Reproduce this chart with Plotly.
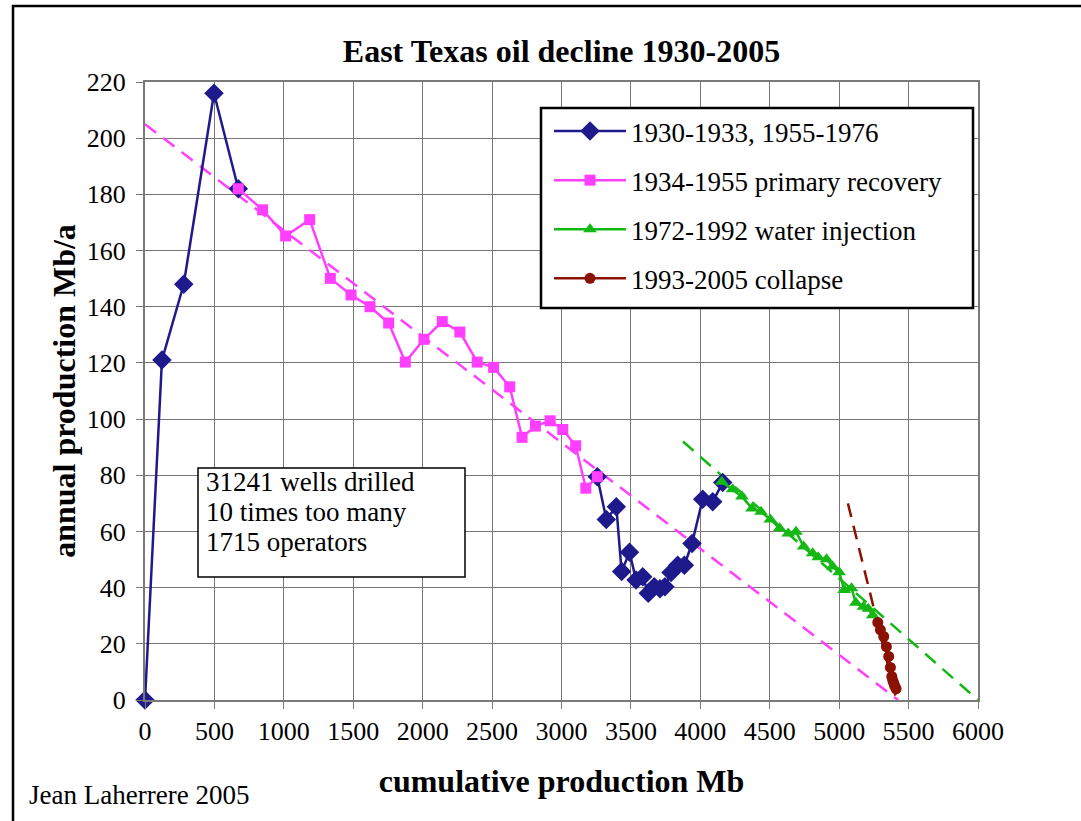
import plotly.graph_objects as go

# ---- data ----
# 1930-1933 and 1955-1976 (two segments, gap between)
blue_x = [0, 122, 279, 497, 672, None,
          3258, 3323, 3395, 3433, 3490, 3537, 3585, 3625, 3668, 3709, 3745,
          3789, 3837, 3885, 3940, 4017, 4089, 4161]
blue_y = [0, 121, 148, 216, 182, None,
          79.5, 64.3, 68.8, 45.7, 52.6, 42.7, 43.9, 38.0, 40.3, 39.6, 40.3,
          45.4, 48.0, 48.0, 55.7, 71.5, 70.6, 77.4]

# 1934-1955 primary recovery
pink_x = [672, 847, 1013, 1186, 1335, 1484, 1621, 1755, 1875, 2009, 2141,
          2268, 2393, 2511, 2627, 2716, 2812, 2918, 3009, 3102, 3175, 3258]
pink_y = [182, 174.5, 165.2, 171.0, 150.1, 144.2, 140.0, 134.2, 120.3, 128.4,
          134.7, 131.0, 120.3, 118.4, 111.5, 93.5, 97.5, 99.4, 96.3, 90.5,
          75.4, 79.5]

# 1972-1992 water injection
green_x = [4154, 4233, 4300, 4372, 4437, 4504, 4571, 4633, 4689, 4744, 4809,
           4849, 4909, 4953, 5000, 5036, 5089, 5120, 5175, 5210, 5242]
green_y = [77.7, 75.0, 72.4, 68.2, 67.0, 64.3, 61.1, 59.3, 59.9, 54.6, 52.2,
           50.8, 50.1, 47.5, 45.5, 39.2, 39.8, 34.6, 33.2, 32.5, 30.2]

# 1993-2005 collapse
red_x = [5278, 5297, 5321, 5340, 5357, 5369, 5379, 5386, 5393, 5400, 5410]
red_y = [27.6, 25.0, 22.6, 19.0, 15.5, 11.6, 8.4, 7.0, 6.0, 5.0, 4.0]

# linear trend lines (end points)
pink_trend_x = [0, 5425]
pink_trend_y = [205, 0]
green_trend_x = [3875, 6000]
green_trend_y = [92, 0]
red_trend_x = [5063, 5413]
red_trend_y = [70, 0]

series_names = ["1930-1933, 1955-1976", "1934-1955 primary recovery",
                "1972-1992 water injection", "1993-2005 collapse"]
note_lines = ["31241 wells drilled", "10 times too many", "1715 operators"]

x_ticks = list(range(0, 6001, 500))
y_ticks = list(range(0, 221, 20))

BLUE = "#1E1A8C"
PINK = "#FF3EFF"
GREEN = "#14B814"
RED = "#8B1100"
FONT = "Liberation Serif"

fig = go.Figure()

dash = "14px,9px"
fig.add_trace(go.Scatter(x=pink_trend_x, y=pink_trend_y, mode="lines",
                         line=dict(color=PINK, width=2.5, dash=dash),
                         showlegend=False, hoverinfo="skip"))
fig.add_trace(go.Scatter(x=green_trend_x, y=green_trend_y, mode="lines",
                         line=dict(color=GREEN, width=2.5, dash=dash),
                         showlegend=False, hoverinfo="skip"))
fig.add_trace(go.Scatter(x=red_trend_x, y=red_trend_y, mode="lines",
                         line=dict(color=RED, width=2.5, dash=dash),
                         showlegend=False, hoverinfo="skip"))

fig.add_trace(go.Scatter(x=blue_x, y=blue_y, mode="lines+markers",
                         name=series_names[0], legendgroup="a",
                         connectgaps=False, cliponaxis=False,
                         line=dict(color=BLUE, width=2.5),
                         marker=dict(symbol="diamond", size=15, color=BLUE)))
fig.add_trace(go.Scatter(x=pink_x, y=pink_y, mode="lines+markers",
                         name=series_names[1], legendgroup="b",
                         line=dict(color=PINK, width=2.5),
                         marker=dict(symbol="square", size=11, color=PINK)))
fig.add_trace(go.Scatter(x=green_x, y=green_y, mode="lines+markers",
                         name=series_names[2], legendgroup="c",
                         line=dict(color=GREEN, width=2.5),
                         marker=dict(symbol="triangle-up", size=12, color=GREEN)))
fig.add_trace(go.Scatter(x=red_x, y=red_y, mode="lines+markers",
                         name=series_names[3], legendgroup="d",
                         line=dict(color=RED, width=2.5),
                         marker=dict(symbol="circle", size=11, color=RED)))

W, H = 1081, 821
L, R, T, B = 145, 103, 82, 121
pw, ph = W - L - R, H - T - B


def px_x(p):
    return (p - L) / pw


def px_y(p):
    return (H - B - p) / ph


shapes = [
    # outer frame (top and left edges visible)
    dict(type="path", xref="paper", yref="paper",
         path=f"M {px_x(13)},{px_y(830)} L {px_x(13)},{px_y(6)} L {px_x(1090)},{px_y(6)}",
         line=dict(color="black", width=2.5)),
    # note box
    dict(type="rect", xref="paper", yref="paper",
         x0=px_x(198), x1=px_x(465), y0=px_y(577), y1=px_y(468),
         line=dict(color="black", width=1.5), fillcolor="white", layer="above"),
    # legend frame
    dict(type="rect", xref="paper", yref="paper",
         x0=px_x(541), x1=px_x(973), y0=px_y(308), y1=px_y(108),
         line=dict(color="black", width=2.5), fillcolor="white", layer="above"),
]

annotations = []
for i, line in enumerate(note_lines):
    annotations.append(dict(xref="paper", yref="paper", x=px_x(204),
                            y=px_y(482 + 30 * i), xanchor="left", yanchor="middle",
                            text=line, showarrow=False,
                            font=dict(family=FONT, size=27, color="black")))
annotations.append(dict(xref="paper", yref="paper", x=px_x(27), y=px_y(795),
                        xanchor="left", yanchor="middle",
                        text="Jean Laherrere 2005", showarrow=False,
                        font=dict(family=FONT, size=27, color="black")))

fig.update_layout(
    width=W, height=H,
    margin=dict(l=L, r=R, t=T, b=B),
    paper_bgcolor="white", plot_bgcolor="white",
    font=dict(family=FONT, size=26, color="black"),
    title=dict(text="<b>East Texas oil decline 1930-2005</b>",
               x=0.5, xref="paper", xanchor="center",
               y=(H - 51) / H, yref="container", yanchor="middle",
               font=dict(family=FONT, size=32, color="black")),
    xaxis=dict(range=[0, 6000], tickvals=x_ticks, ticktext=[str(v) for v in x_ticks],
               showgrid=True, gridcolor="#777777", gridwidth=1,
               showline=True, linecolor="#7a7a7a", linewidth=2, mirror=True,
               ticks="outside", ticklen=7, tickcolor="#7a7a7a",
               zeroline=False,
               tickfont=dict(family=FONT, size=26),
               title=dict(text="<b>cumulative production Mb</b>", standoff=24,
                          font=dict(family=FONT, size=32))),
    yaxis=dict(range=[0, 220], tickvals=y_ticks, ticktext=[str(v) for v in y_ticks],
               showgrid=True, gridcolor="#777777", gridwidth=1,
               showline=True, linecolor="#7a7a7a", linewidth=2, mirror=True,
               ticks="outside", ticklen=7, tickcolor="#7a7a7a",
               zeroline=False, ticklabelstandoff=5,
               tickfont=dict(family=FONT, size=26),
               title=dict(text="<b>annual production Mb/a</b>", standoff=2,
                          font=dict(family=FONT, size=32))),
    legend=dict(x=px_x(549), y=px_y(107), xanchor="left", yanchor="top",
                bgcolor="rgba(0,0,0,0)", borderwidth=0,
                itemwidth=72,
                font=dict(family=FONT, size=27, color="black"),
                tracegroupgap=11, traceorder="grouped"),
    shapes=shapes,
    annotations=annotations,
)

fig.write_html("out.html",
               config={"displayModeBar": False},
               post_script="document.body.style.margin='0';")
